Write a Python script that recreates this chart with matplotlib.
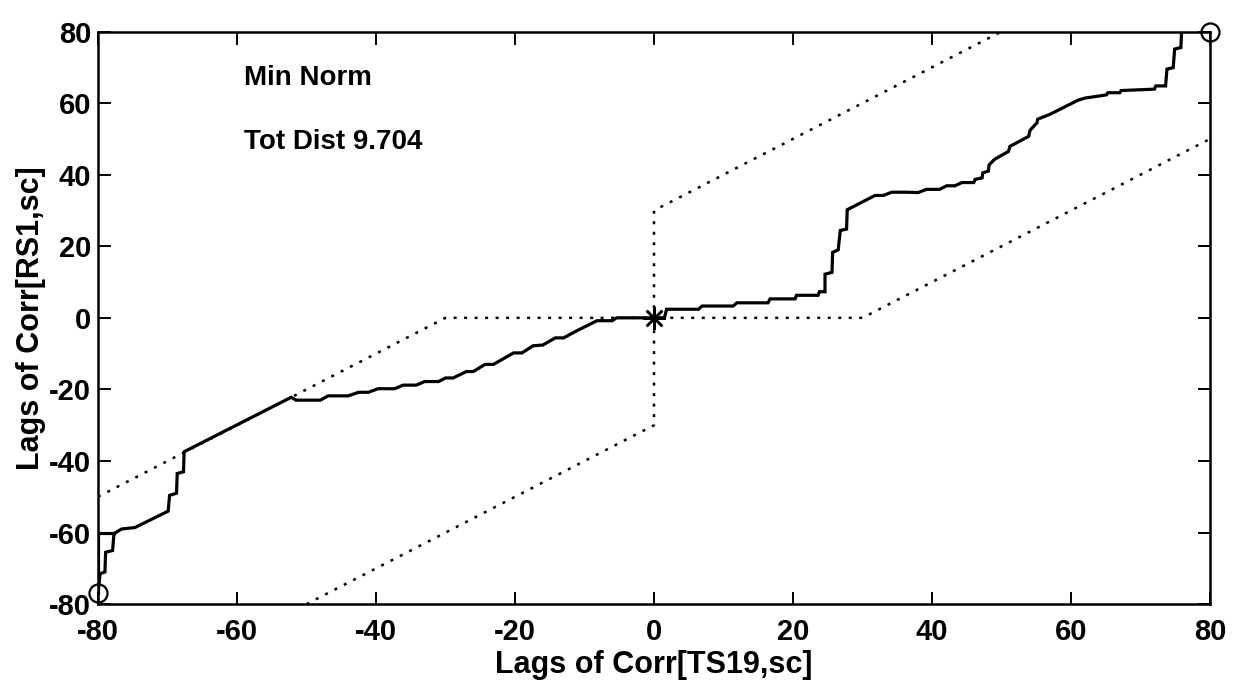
import matplotlib

matplotlib.use("Agg")
import matplotlib.pyplot as plt

plt.rcParams["font.family"] = ["Liberation Sans", "DejaVu Sans"]
plt.rcParams["axes.unicode_minus"] = False

# warping path
PATH_X = [
    -80, -79.7, -79, -78.9, -77.9, -77.7, -76.6, -74.7, -69.9, -69.7, -68.7,
    -68.6, -67.7, -67.6, -52.2, -51.5, -48, -46.9, -44, -42.5, -41.1, -39.7,
    -37.3, -36.1, -34.2, -33, -31, -30, -28.9, -27, -26, -24.3, -23.1, -20.2,
    -19, -17.4, -16, -14.2, -13, -11.1, -8.2, -6, -5.4, 0, 1.5, 1.8, 6.4, 6.9,
    11.4, 11.9, 16.4, 16.7, 20.3, 20.5, 23.6, 23.8, 24.6, 24.6, 25.6, 25.7,
    26.5, 26.8, 27.7, 27.8, 31.8, 33, 34.2, 36.3, 38, 39.2, 41.1, 42.1, 43.3,
    44.3, 46, 46.2, 47.2, 47.3, 48.1, 48.2, 49, 51, 51.2, 53.9, 54.1, 55.1,
    55.2, 57, 61, 62, 65.1, 65.3, 67, 67.2, 72, 72.2, 73.6, 73.8, 74.7, 74.9,
    75.8, 75.9, 80,
]
PATH_Y = [
    -77, -71.5, -71, -65.5, -65, -60.3, -59, -58.6, -54, -49.6, -49,
    -43.5, -43, -37.4, -22.2, -23, -23, -21.8, -21.8, -20.8, -20.8, -19.8,
    -19.8, -18.8, -18.8, -17.8, -17.8, -16.8, -16.8, -15, -15, -13, -13, -9.8,
    -9.8, -7.8, -7.6, -5.6, -5.6, -3.6, -0.8, -0.8, 0, 0, 0, 2.4, 2.4, 3.3,
    3.3, 4.2, 4.2, 5.3, 5.3, 6.3, 6.3, 7.3, 7.3, 12.2, 12.7, 18.3,
    19, 24.4, 24.8, 30.2, 34.2, 34.2, 35.1, 35.1, 35, 35.9, 35.9, 36.9, 36.9,
    37.8, 37.8, 38.7, 39.1, 40.5, 41, 42.7, 44.3, 46.5, 47.9, 50.7, 52.4, 54.5,
    55.5, 56.9, 60.8, 61.4, 62.3, 62.9, 62.9, 63.5, 63.9, 64.8, 64.8, 69.5, 69.9, 75.1,
    75.5, 80, 80,
]
STUB_X = [-80, -80, -77.7]
STUB_Y = [-77, -60, -60]

# slope-constraint band
UPPER_X = [-80, -30, 0, 0, 50]
UPPER_Y = [-50, 0, 0, 30, 80]
LOWER_X = [-50, 0, 0, 30, 80]
LOWER_Y = [-80, -30, 0, 0, 50]

END_X = [-80, 80]
END_Y = [-77, 80]
CENTER = (0, 0)

TICKS = [-80, -60, -40, -20, 0, 20, 40, 60, 80]
LABELS = ["Min Norm", "Tot Dist 9.704"]


def main():
    fig = plt.figure(figsize=(12.34, 6.85), dpi=100)
    ax = fig.add_axes([0.0794, 0.118, 0.9012, 0.836])

    dots = dict(color="black", linestyle=(0, (1.2, 3)), linewidth=1.8)
    ax.plot(UPPER_X, UPPER_Y, **dots)
    ax.plot(LOWER_X, LOWER_Y, **dots)

    ax.plot(PATH_X, PATH_Y, color="black", linewidth=2.3, solid_joinstyle="miter")
    ax.plot(STUB_X, STUB_Y, color="black", linewidth=2.3)

    ax.plot(END_X, END_Y, linestyle="none", marker="o", markersize=13,
            markerfacecolor="none", markeredgecolor="black", markeredgewidth=1.6,
            clip_on=False)
    ax.plot([CENTER[0]], [CENTER[1]], linestyle="none", marker=(8, 2, 0),
            markersize=16, markeredgewidth=1.8, color="black")

    text_kw = dict(fontsize=20, fontweight="bold", va="center", ha="left")
    ax.text(-59, 67, LABELS[0], **text_kw)
    ax.text(-59, 49, LABELS[1], **text_kw)

    ax.set_xlim(-80, 80)
    ax.set_ylim(-80, 80)
    ax.set_xticks(TICKS)
    ax.set_yticks(TICKS)
    ax.tick_params(direction="in", top=True, right=True, length=9, width=1.4,
                   labelsize=21)
    ax.tick_params(axis="x", pad=10)
    ax.tick_params(axis="y", pad=5)
    for lab in ax.get_xticklabels() + ax.get_yticklabels():
        lab.set_fontweight("bold")
    for spine in ax.spines.values():
        spine.set_linewidth(1.8)

    ax.set_xlabel("Lags of Corr[TS19,sc]", fontsize=22, fontweight="bold", labelpad=3)
    ax.set_ylabel("Lags of Corr[RS1,sc]", fontsize=22, fontweight="bold", labelpad=2)

    fig.savefig("out.png", dpi=100)
    plt.close(fig)


if __name__ == "__main__":
    main()
